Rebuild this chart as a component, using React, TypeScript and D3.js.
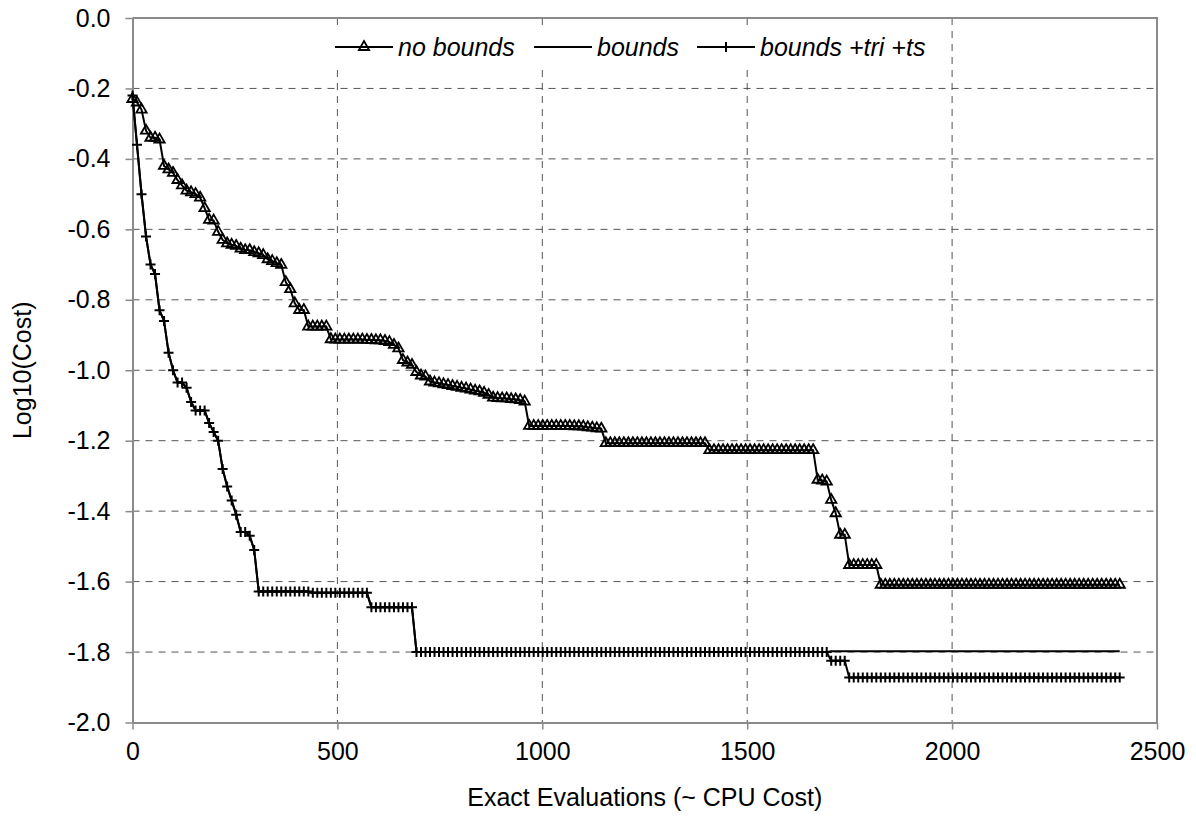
import React, { useRef, useEffect } from "react";
import * as d3 from "d3";

// evaluation checkpoints are recorded every 11 exact evaluations
const evalStep = 11;

const xTicks = [0, 500, 1000, 1500, 2000, 2500];
const yTicks = [0, -0.2, -0.4, -0.6, -0.8, -1.0, -1.2, -1.4, -1.6, -1.8, -2.0];
const legendLabels = ["no bounds", "bounds", "bounds +tri +ts"];

const noBounds = [
  -0.23, -0.24, -0.26, -0.32, -0.34, -0.34, -0.345, -0.42, -0.43, -0.44,
  -0.46, -0.475, -0.49, -0.495, -0.5, -0.51, -0.54, -0.573, -0.575, -0.607,
  -0.63, -0.64, -0.644, -0.647, -0.655, -0.659, -0.659, -0.665, -0.668, -0.673,
  -0.685, -0.69, -0.696, -0.701, -0.75, -0.77, -0.81, -0.829, -0.829, -0.876,
  -0.876, -0.876, -0.876, -0.876, -0.912, -0.913, -0.913, -0.913, -0.913, -0.913,
  -0.913, -0.913, -0.914, -0.914, -0.915, -0.915, -0.917, -0.92, -0.928, -0.938,
  -0.971, -0.978, -0.985, -1.005, -1.015, -1.018, -1.032, -1.035, -1.037, -1.04,
  -1.042, -1.045, -1.047, -1.05, -1.052, -1.055, -1.058, -1.06, -1.064, -1.07,
  -1.078, -1.079, -1.08, -1.08, -1.082, -1.083, -1.085, -1.089, -1.158, -1.158,
  -1.158, -1.158, -1.158, -1.158, -1.158, -1.158, -1.158, -1.158, -1.159, -1.159,
  -1.16, -1.162, -1.163, -1.165, -1.166, -1.207, -1.207, -1.207, -1.207, -1.207,
  -1.207, -1.207, -1.207, -1.207, -1.207, -1.207, -1.207, -1.207, -1.207, -1.207,
  -1.207, -1.207, -1.207, -1.207, -1.207, -1.207, -1.207, -1.207, -1.227, -1.227,
  -1.227, -1.227, -1.227, -1.227, -1.227, -1.227, -1.227, -1.227, -1.227, -1.227,
  -1.227, -1.227, -1.227, -1.227, -1.227, -1.227, -1.227, -1.227, -1.227, -1.227,
  -1.227, -1.227, -1.311, -1.313, -1.316, -1.368, -1.406, -1.467, -1.467, -1.553,
  -1.553, -1.553, -1.553, -1.553, -1.553, -1.553, -1.609, -1.609, -1.609, -1.609,
  -1.609, -1.609, -1.609, -1.609, -1.609, -1.609, -1.609, -1.609, -1.609, -1.609,
  -1.609, -1.609, -1.609, -1.609, -1.609, -1.609, -1.609, -1.609, -1.609, -1.609,
  -1.609, -1.609, -1.609, -1.609, -1.609, -1.609, -1.609, -1.609, -1.609, -1.609,
  -1.609, -1.609, -1.609, -1.609, -1.609, -1.609, -1.609, -1.609, -1.609, -1.609,
  -1.609, -1.609, -1.609, -1.609, -1.609, -1.609, -1.609, -1.609, -1.609, -1.609,
];

const bounds = [
  -0.22, -0.36, -0.5, -0.62, -0.7, -0.727, -0.83, -0.86, -0.95, -1.0,
  -1.035, -1.035, -1.05, -1.09, -1.114, -1.114, -1.114, -1.15, -1.175, -1.2,
  -1.28, -1.33, -1.37, -1.41, -1.459, -1.459, -1.47, -1.51, -1.628, -1.628,
  -1.628, -1.628, -1.628, -1.628, -1.628, -1.628, -1.628, -1.628, -1.628, -1.628,
  -1.632, -1.632, -1.632, -1.632, -1.632, -1.632, -1.632, -1.632, -1.632, -1.632,
  -1.632, -1.632, -1.632, -1.673, -1.673, -1.673, -1.673, -1.673, -1.673, -1.673,
  -1.673, -1.673, -1.673, -1.8, -1.8, -1.8, -1.8, -1.8, -1.8, -1.8,
  -1.8, -1.8, -1.8, -1.8, -1.8, -1.8, -1.8, -1.8, -1.8, -1.8,
  -1.8, -1.8, -1.8, -1.8, -1.8, -1.8, -1.8, -1.8, -1.8, -1.8,
  -1.8, -1.8, -1.8, -1.8, -1.8, -1.8, -1.8, -1.8, -1.8, -1.8,
  -1.8, -1.8, -1.8, -1.8, -1.8, -1.8, -1.8, -1.8, -1.8, -1.8,
  -1.8, -1.8, -1.8, -1.8, -1.8, -1.8, -1.8, -1.8, -1.8, -1.8,
  -1.8, -1.8, -1.8, -1.8, -1.8, -1.8, -1.8, -1.8, -1.8, -1.8,
  -1.8, -1.8, -1.8, -1.8, -1.8, -1.8, -1.8, -1.8, -1.8, -1.8,
  -1.8, -1.8, -1.8, -1.8, -1.8, -1.8, -1.8, -1.8, -1.8, -1.8,
  -1.8, -1.8, -1.8, -1.8, -1.8, -1.798, -1.798, -1.798, -1.798, -1.798,
  -1.798, -1.798, -1.798, -1.798, -1.798, -1.798, -1.798, -1.798, -1.798, -1.798,
  -1.798, -1.798, -1.798, -1.798, -1.798, -1.798, -1.798, -1.798, -1.798, -1.798,
  -1.798, -1.798, -1.798, -1.798, -1.798, -1.798, -1.798, -1.798, -1.798, -1.798,
  -1.798, -1.798, -1.798, -1.798, -1.798, -1.798, -1.798, -1.798, -1.798, -1.798,
  -1.798, -1.798, -1.798, -1.798, -1.798, -1.798, -1.798, -1.798, -1.798, -1.798,
  -1.798, -1.798, -1.798, -1.798, -1.798, -1.798, -1.798, -1.798, -1.798, -1.798,
];

const boundsTriTs = [
  -0.22, -0.36, -0.5, -0.62, -0.7, -0.727, -0.83, -0.86, -0.95, -1.0,
  -1.035, -1.035, -1.05, -1.09, -1.114, -1.114, -1.114, -1.15, -1.175, -1.2,
  -1.28, -1.33, -1.37, -1.41, -1.459, -1.459, -1.47, -1.51, -1.628, -1.628,
  -1.628, -1.628, -1.628, -1.628, -1.628, -1.628, -1.628, -1.628, -1.628, -1.628,
  -1.632, -1.632, -1.632, -1.632, -1.632, -1.632, -1.632, -1.632, -1.632, -1.632,
  -1.632, -1.632, -1.632, -1.673, -1.673, -1.673, -1.673, -1.673, -1.673, -1.673,
  -1.673, -1.673, -1.673, -1.8, -1.8, -1.8, -1.8, -1.8, -1.8, -1.8,
  -1.8, -1.8, -1.8, -1.8, -1.8, -1.8, -1.8, -1.8, -1.8, -1.8,
  -1.8, -1.8, -1.8, -1.8, -1.8, -1.8, -1.8, -1.8, -1.8, -1.8,
  -1.8, -1.8, -1.8, -1.8, -1.8, -1.8, -1.8, -1.8, -1.8, -1.8,
  -1.8, -1.8, -1.8, -1.8, -1.8, -1.8, -1.8, -1.8, -1.8, -1.8,
  -1.8, -1.8, -1.8, -1.8, -1.8, -1.8, -1.8, -1.8, -1.8, -1.8,
  -1.8, -1.8, -1.8, -1.8, -1.8, -1.8, -1.8, -1.8, -1.8, -1.8,
  -1.8, -1.8, -1.8, -1.8, -1.8, -1.8, -1.8, -1.8, -1.8, -1.8,
  -1.8, -1.8, -1.8, -1.8, -1.8, -1.8, -1.8, -1.8, -1.8, -1.8,
  -1.8, -1.8, -1.8, -1.8, -1.8, -1.825, -1.825, -1.825, -1.825, -1.872,
  -1.872, -1.872, -1.872, -1.872, -1.872, -1.872, -1.872, -1.872, -1.872, -1.872,
  -1.872, -1.872, -1.872, -1.872, -1.872, -1.872, -1.872, -1.872, -1.872, -1.872,
  -1.872, -1.872, -1.872, -1.872, -1.872, -1.872, -1.872, -1.872, -1.872, -1.872,
  -1.872, -1.872, -1.872, -1.872, -1.872, -1.872, -1.872, -1.872, -1.872, -1.872,
  -1.872, -1.872, -1.872, -1.872, -1.872, -1.872, -1.872, -1.872, -1.872, -1.872,
  -1.872, -1.872, -1.872, -1.872, -1.872, -1.872, -1.872, -1.872, -1.872, -1.872,
];

const FONT = "Arial, 'Liberation Sans', sans-serif";
const FONT_SIZE = "25px";
const AXIS_GREY = "#8a8a8a";
const GRID = "#555";
const PLUS = "M-5,0H5M0,-5V5";

export default function App() {
  const chartRef = useRef<SVGSVGElement>(null);

  useEffect(() => {
    const width = 1196;
    const height = 840;
    const margin = { top: 18, right: 39, bottom: 117.5, left: 132.5 };
    const innerW = width - margin.left - margin.right;
    const innerH = height - margin.top - margin.bottom;

    const svg = d3.select(chartRef.current);
    svg.selectAll("*").remove();
    svg.attr("width", width).attr("height", height).style("font-family", FONT);

    svg.append("rect").attr("width", width).attr("height", height).attr("fill", "#fff");

    const x = d3.scaleLinear().domain([0, 2500]).range([margin.left, margin.left + innerW]);
    const y = d3.scaleLinear().domain([-2, 0]).range([margin.top + innerH, margin.top]);

    // dashed grid
    const grid = svg.append("g").attr("stroke", GRID).attr("stroke-width", 1).attr("stroke-dasharray", "7,6");
    grid.selectAll("line.h")
      .data(yTicks.filter(d => d !== 0 && d !== -2))
      .join("line")
      .attr("class", "h")
      .attr("x1", x(0)).attr("x2", x(2500))
      .attr("y1", d => y(d)).attr("y2", d => y(d));
    grid.selectAll("line.v")
      .data(xTicks.filter(d => d !== 0 && d !== 2500))
      .join("line")
      .attr("class", "v")
      .attr("x1", d => x(d)).attr("x2", d => x(d))
      .attr("y1", y(0)).attr("y2", y(-2));

    // plot area border (top and right)
    svg.append("path")
      .attr("d", `M${x(0)},${y(0)}H${x(2500)}V${y(-2)}`)
      .attr("fill", "none")
      .attr("stroke", AXIS_GREY)
      .attr("stroke-width", 2);

    // axes
    const yAxis = svg.append("g")
      .attr("transform", `translate(${x(0)},0)`)
      .call(d3.axisLeft(y).tickValues(yTicks).tickSizeInner(7).tickSizeOuter(0).tickPadding(15)
        .tickFormat(d => (+d).toFixed(1)));
    yAxis.select(".domain").attr("stroke", AXIS_GREY).attr("stroke-width", 2);
    yAxis.selectAll(".tick line").attr("stroke", AXIS_GREY).attr("stroke-width", 1.5);
    yAxis.selectAll("text").attr("font-family", FONT).style("font-size", FONT_SIZE).attr("fill", "#000");

    const xAxis = svg.append("g")
      .attr("transform", `translate(0,${y(-2)})`)
      .call(d3.axisBottom(x).tickValues(xTicks).tickSizeInner(7).tickSizeOuter(0).tickPadding(13)
        .tickFormat(d3.format("d")));
    xAxis.select(".domain").attr("stroke", AXIS_GREY).attr("stroke-width", 2);
    xAxis.selectAll(".tick line").attr("stroke", AXIS_GREY).attr("stroke-width", 1.5);
    xAxis.selectAll("text").attr("font-family", FONT).style("font-size", FONT_SIZE).attr("fill", "#000");

    // axis titles
    svg.append("text")
      .attr("x", x(1250)).attr("y", 806)
      .attr("text-anchor", "middle")
      .style("font-size", FONT_SIZE)
      .text("Exact Evaluations (~ CPU Cost)");
    svg.append("text")
      .attr("transform", `translate(31,${(y(0) + y(-2)) / 2}) rotate(-90)`)
      .attr("text-anchor", "middle")
      .style("font-size", FONT_SIZE)
      .text("Log10(Cost)");

    const line = d3.line<number>()
      .x((_, i) => x(i * evalStep))
      .y(d => y(d));

    const tri = d3.symbol().type(d3.symbolTriangle).size(46);

    // bounds (plain line)
    svg.append("path").datum(bounds)
      .attr("d", line).attr("fill", "none").attr("stroke", "#000").attr("stroke-width", 2);

    // bounds +tri +ts (plus markers)
    svg.append("path").datum(boundsTriTs)
      .attr("d", line).attr("fill", "none").attr("stroke", "#000").attr("stroke-width", 2);
    svg.append("g").selectAll("path")
      .data(boundsTriTs)
      .join("path")
      .attr("d", PLUS)
      .attr("transform", (d, i) => `translate(${x(i * evalStep)},${y(d)})`)
      .attr("stroke", "#000").attr("stroke-width", 2);

    // no bounds (hollow triangle markers)
    svg.append("path").datum(noBounds)
      .attr("d", line).attr("fill", "none").attr("stroke", "#000").attr("stroke-width", 2);
    svg.append("g").selectAll("path")
      .data(noBounds)
      .join("path")
      .attr("d", tri)
      .attr("transform", (d, i) => `translate(${x(i * evalStep)},${y(d)})`)
      .attr("fill", "none").attr("stroke", "#000").attr("stroke-width", 1.8);

    // legend, centred at the top of the plot area
    const legend = svg.append("g");
    const ly = 47;
    legend.append("rect")
      .attr("x", 325).attr("y", 28).attr("width", 615).attr("height", 36)
      .attr("fill", "#fff");
    const items = [
      { label: legendLabels[0], x0: 335, x1: 393, text: 398, marker: "tri" },
      { label: legendLabels[1], x0: 534, x1: 592, text: 597, marker: "none" },
      { label: legendLabels[2], x0: 697, x1: 755, text: 760, marker: "plus" },
    ];
    items.forEach(it => {
      legend.append("line")
        .attr("x1", it.x0).attr("x2", it.x1).attr("y1", ly).attr("y2", ly)
        .attr("stroke", "#000").attr("stroke-width", 2);
      const cx = (it.x0 + it.x1) / 2;
      if (it.marker === "tri") {
        legend.append("path").attr("d", tri).attr("transform", `translate(${cx},${ly})`)
          .attr("fill", "none").attr("stroke", "#000").attr("stroke-width", 1.8);
      } else if (it.marker === "plus") {
        legend.append("path").attr("d", PLUS).attr("transform", `translate(${cx},${ly})`)
          .attr("stroke", "#000").attr("stroke-width", 2);
      }
      legend.append("text")
        .attr("x", it.text).attr("y", ly + 9)
        .style("font-size", FONT_SIZE).style("font-style", "italic")
        .text(it.label);
    });
  }, []);

  return (
    <div style={{ position: "absolute", left: 0, top: 0 }}>
      <svg ref={chartRef}></svg>
    </div>
  );
}
